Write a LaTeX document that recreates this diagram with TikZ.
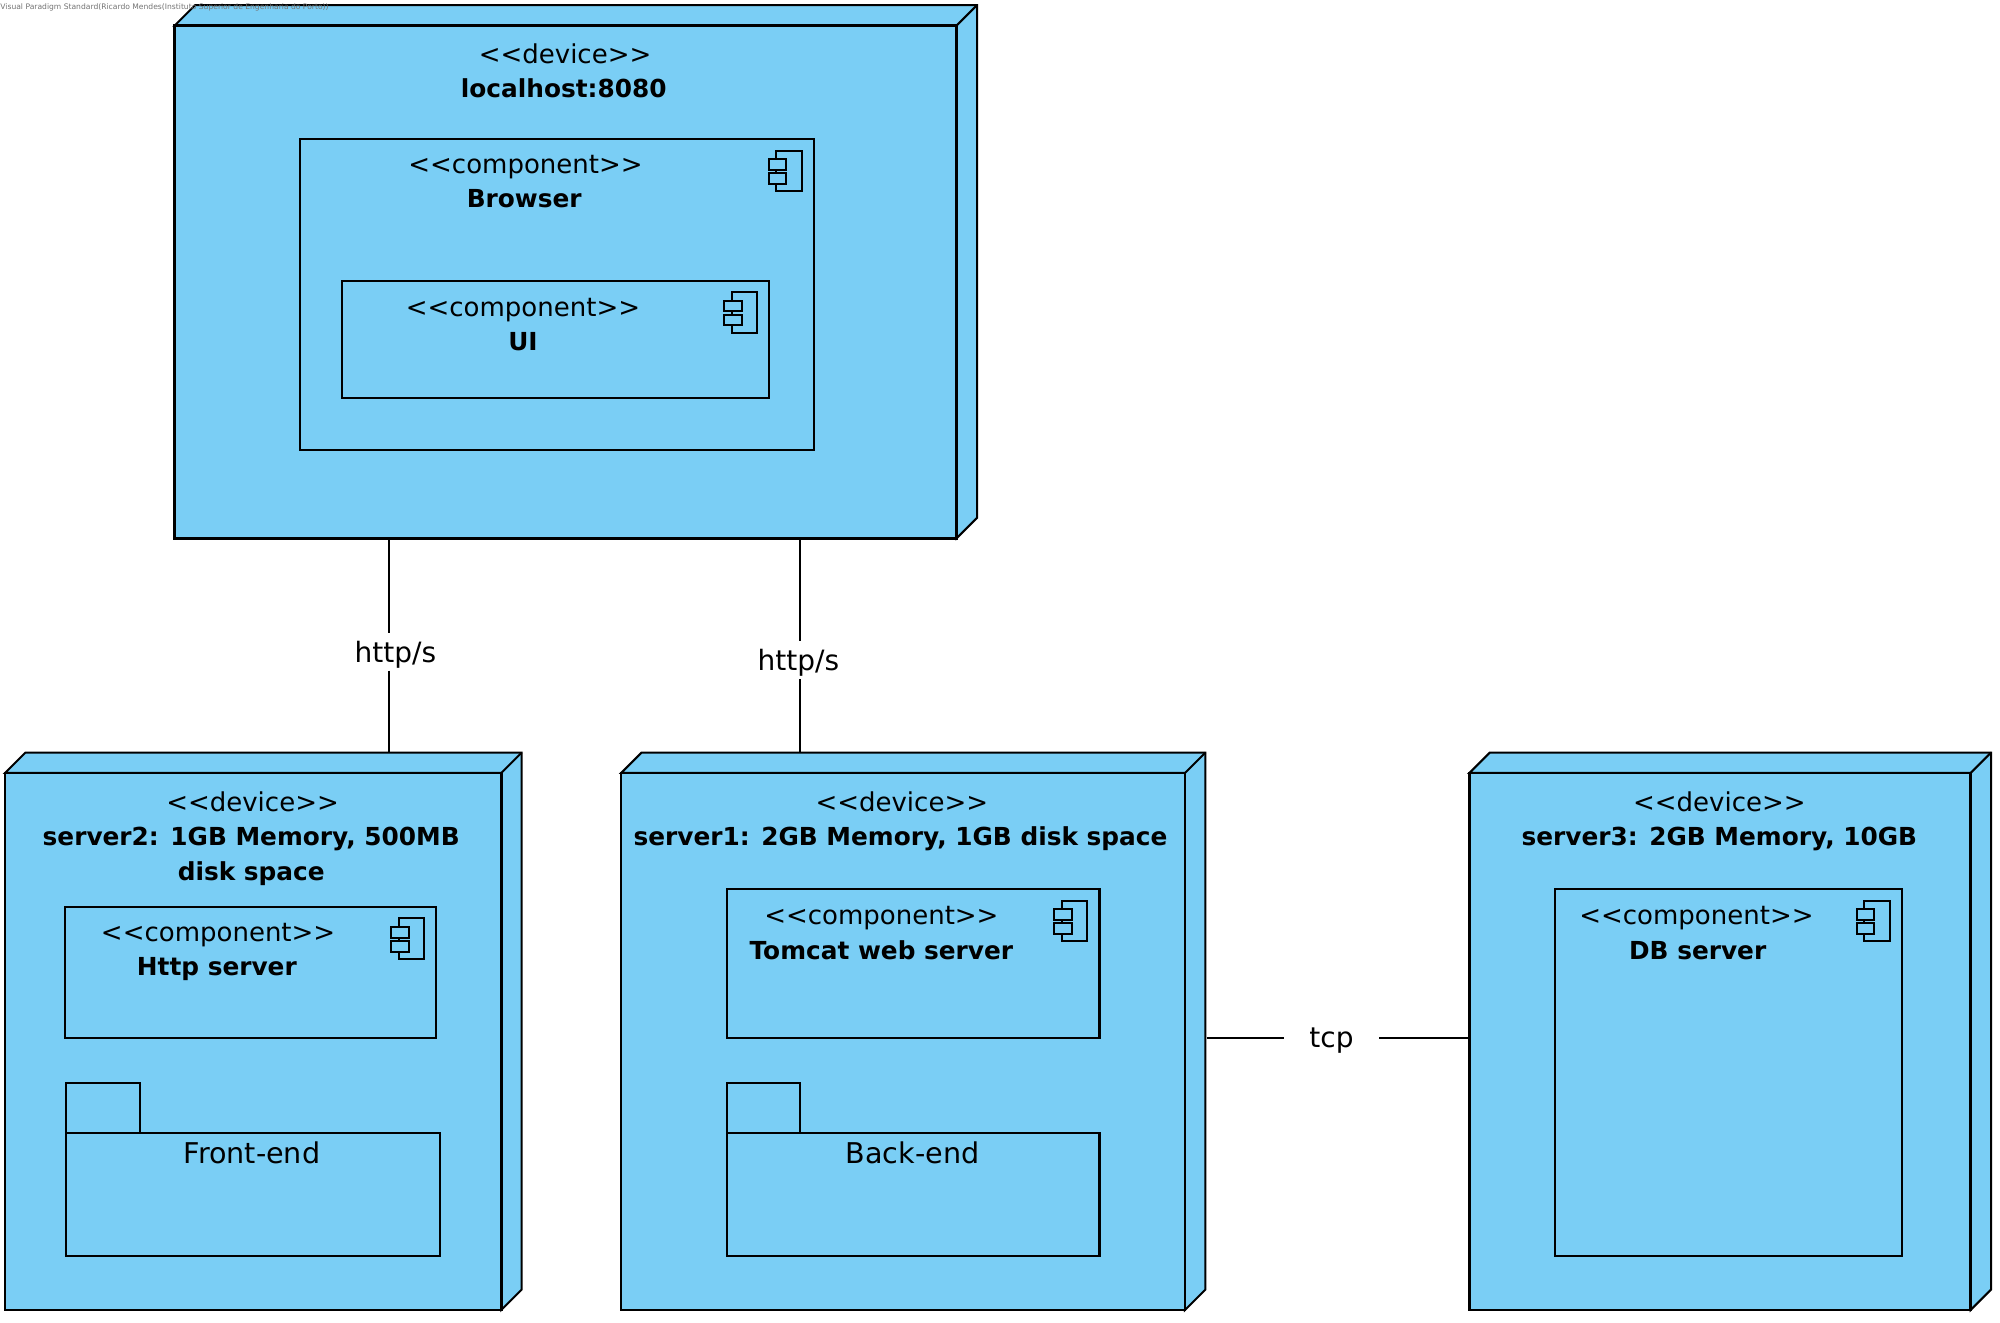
\documentclass[tikz,border=0pt]{standalone}
\usepackage{fontspec}
\usetikzlibrary{fit}
\setmainfont{DejaVu Sans}
\definecolor{nodeblue}{HTML}{7ACEF5}
\tikzset{
  cube/.style={draw=black,fill=nodeblue,line width=1pt,line join=miter},
  frontface/.style={draw=black,fill=nodeblue,line width=1.3pt,inner sep=0pt,outer sep=0pt},
  inner box/.style={draw=black,fill=nodeblue,line width=1.1pt,inner sep=0pt,outer sep=0pt},
  icon line/.style={draw=black,fill=nodeblue,line width=1pt},
  stereo/.style={anchor=base,inner sep=0pt,font=\fontsize{13}{16}\selectfont},
  pkgname/.style={anchor=base,inner sep=0pt,font=\fontsize{14.3}{16}\selectfont},
  title/.style={anchor=base,inner sep=0pt,font=\fontsize{12.4}{14}\bfseries\selectfont},
  conn/.style={draw=black,line width=1.1pt},
  connlabel/.style={inner sep=0pt,font=\fontsize{14}{16}\selectfont},
  watermark/.style={anchor=west,inner sep=0pt,text=black!55,font=\fontsize{3.8}{4}\selectfont}
}
\newcommand{\LL}{<{}<}
\newcommand{\GG}{>{}>}
% name, x1,y1 (front top-left), x2,y2 (front bottom-right)
\newcommand{\devicebox}[5]{%
  \draw[cube] (#2,#3) -- (#2+16,#3-16) -- (#4+16,#3-16) -- (#4+16,#5-16) -- (#4,#5) -- (#4,#3) -- cycle;
  \draw[cube,fill=none] (#4,#3) -- (#4+16,#3-16);
  \coordinate (#1-a) at (#2,#3);
  \coordinate (#1-b) at (#4,#5);
  \coordinate (#1-back) at (#2,#3-16);
  \coordinate (#1-side) at (#4+16,#3);
  \node[frontface,fit=(#1-a)(#1-b)] (#1) {};
}
% name, x1,y1,x2,y2
\newcommand{\compbox}[5]{%
  \coordinate (#1-a) at (#2,#3);
  \coordinate (#1-b) at (#4,#5);
  \node[inner box,fit=(#1-a)(#1-b)] (#1) {};
  \begin{scope}[shift={(#4,#3)}]
    \draw[icon line] (-29.5,9) rectangle (-9.5,41);
    \draw[icon line] (-35.5,16) rectangle (-21.5,24);
    \draw[icon line] (-35.5,27) rectangle (-21.5,35);
  \end{scope}
}
% name, x1,ytab,xtabright,ybody,x2,ybottom
\newcommand{\folderbox}[7]{%
  \draw[inner box] (#2,#3) rectangle (#4,#5);
  \coordinate (#1-a) at (#2,#5);
  \coordinate (#1-b) at (#6,#7);
  \node[inner box,fit=(#1-a)(#1-b)] (#1) {};
}
\begin{document}
\begin{tikzpicture}[x=0.63776pt,y=-0.63776pt]
\useasboundingbox (0,0) rectangle (1568,1037.2);

% device nodes
\devicebox{top}{137}{20}{750}{422}
\devicebox{sb}{4}{606}{393}{1027}
\devicebox{sa}{487}{606}{929}{1027}
\devicebox{sc}{1152}{606}{1545}{1027}

% inner elements: top
\compbox{browser}{235}{109}{638}{353}
\compbox{ui}{268}{220}{603}{312}
% server2
\compbox{http}{51}{711}{342}{814}
\folderbox{front}{52}{849}{110}{888}{345}{985}
% server1
\compbox{tomcat}{570}{697}{862}{814}
\folderbox{back}{570}{849}{627}{888}{862}{985}
% server3
\compbox{db}{1219}{697}{1491}{985}

% texts
\node[stereo] (t1) at (443,49.5) {\LL device\GG};
\node[title]  (t2) at (442,76.5) {localhost:8080};
\node[stereo] (t3) at (412,136) {\LL component\GG};
\node[title]  (t4) at (411,163) {Browser};
\node[stereo] (t5) at (410,248) {\LL component\GG};
\node[title]  (t6) at (410,275) {UI};
\node[stereo] (t7) at (198,636) {\LL device\GG};
\node[title]  (t8) at (197,663) {server2: 1GB Memory, 500MB};
\node[title]  (t9) at (197,690.5) {disk space};
\node[stereo] (t10) at (171,738) {\LL component\GG};
\node[title]  (t11) at (170,765) {Http server};
\node[pkgname] (t12) at (197.5,912) {Front-end};
\node[stereo] (t13) at (707,636) {\LL device\GG};
\node[title]  (t14) at (706,663) {server1: 2GB Memory, 1GB disk space};
\node[stereo] (t15) at (691,725) {\LL component\GG};
\node[title]  (t16) at (691,752) {Tomcat web server};
\node[pkgname] (t17) at (715.5,912) {Back-end};
\node[stereo] (t18) at (1348,636) {\LL device\GG};
\node[title]  (t19) at (1348,663) {server3: 2GB Memory, 10GB};
\node[stereo] (t20) at (1330,725) {\LL component\GG};
\node[title]  (t21) at (1331,752) {DB server};

% connector labels and routes
\coordinate (ca) at (305,511);
\coordinate (cb) at (627,517.5);
\node[connlabel,minimum height=18.5pt] (la) at (310,513) {http/s};
\node[connlabel,minimum height=18.5pt] (lb) at (626,519.5) {http/s};
\node[connlabel,minimum width=47.4pt] (lc) at (1043.9,815.5) {tcp};
\draw[conn] (top.south -| ca) -- ([yshift=1.3pt]la.north -| ca);
\draw[conn] ([yshift=1.3pt]la.south -| ca) -- (ca |- sb-back);
\draw[conn] (top.south -| cb) -- ([yshift=1.3pt]lb.north -| cb);
\draw[conn] ([yshift=1.3pt]lb.south -| cb) -- (cb |- sa-back);
\coordinate (cc) at (946,814);
\draw[conn] (cc) -- (cc -| lc.west);
\draw[conn] (cc -| lc.east) -- (cc -| sc.west);

\node[watermark] (wm) at (0,6) {Visual Paradigm Standard(Ricardo Mendes(Instituto Superior de Engenharia do Porto))};
\end{tikzpicture}
\end{document}
